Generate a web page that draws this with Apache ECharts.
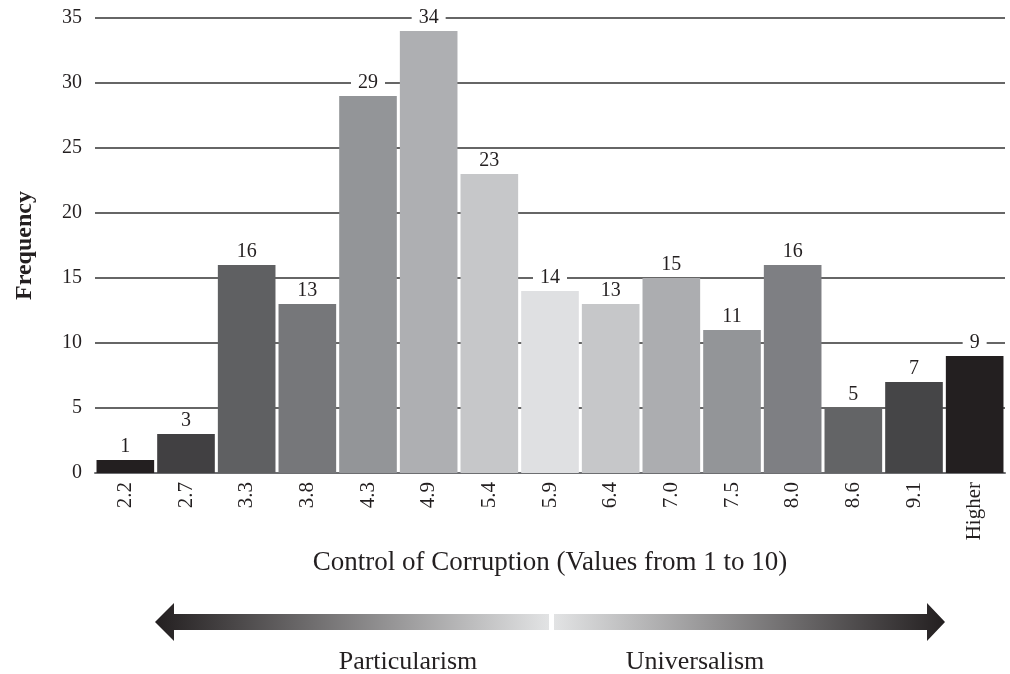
<!DOCTYPE html>
<html>
<head>
<meta charset="utf-8">
<script src="https://cdn.jsdelivr.net/npm/echarts@6/dist/echarts.min.js"></script>
<style>
  html, body { margin: 0; padding: 0; background: #fff; }
  #chart { width: 1010px; height: 674px; }
</style>
</head>
<body>
<div id="chart"></div>
<script>
// histogram bins and counts
const bins = ['2.2', '2.7', '3.3', '3.8', '4.3', '4.9', '5.4', '5.9', '6.4', '7.0', '7.5', '8.0', '8.6', '9.1', 'Higher']
const counts = [1, 3, 16, 13, 29, 34, 23, 14, 13, 15, 11, 16, 5, 7, 9]
const shades = ['#231f20', '#414042', '#5f6062', '#76777a', '#939598', '#aeafb2', '#c6c7c9', '#dfe0e2',
    '#c6c7c9', '#acadb0', '#939598', '#7e7f83', '#636466', '#454547', '#231f20']

const serif = '"Liberation Serif", "DejaVu Serif", serif'

const chart = echarts.init(document.getElementById('chart'))

// the double arrow under the axis title (left half dark -> light, right half light -> dark)
const arrowLeft = [[155, 622], [174, 603], [174, 614], [549, 614], [549, 630], [174, 630], [174, 641]]
const arrowRight = [[945, 622], [927, 603], [927, 614], [554, 614], [554, 630], [927, 630], [927, 641]]

chart.setOption({
    animation: false,
    grid: {
        left: 95,
        right: 5,
        top: 18,
        bottom: 201,
        outerBoundsMode: 'none'
    },
    xAxis: {
        type: 'category',
        data: bins,
        name: 'Control of Corruption (Values from 1 to 10)',
        nameLocation: 'middle',
        nameGap: 76,
        nameTextStyle: {
            fontFamily: serif,
            fontSize: 27,
            color: '#231f20'
        },
        axisLine: {
            lineStyle: { color: '#6d6e71', width: 2 }
        },
        axisTick: { show: false },
        axisLabel: {
            rotate: 90,
            margin: 9,
            fontFamily: serif,
            fontSize: 21,
            color: '#231f20'
        }
    },
    yAxis: {
        type: 'value',
        min: 0,
        max: 35,
        interval: 5,
        name: 'Frequency',
        nameLocation: 'middle',
        nameGap: 58,
        nameTextStyle: {
            fontFamily: serif,
            fontSize: 24,
            fontWeight: 'bold',
            color: '#231f20'
        },
        axisLine: { show: false },
        axisTick: { show: false },
        axisLabel: {
            margin: 13,
            fontFamily: serif,
            fontSize: 20,
            color: '#231f20'
        },
        splitLine: {
            lineStyle: { color: '#333', width: 1.5 }
        }
    },
    series: [
        {
            type: 'bar',
            data: counts.map((v, i) => ({ value: v, itemStyle: { color: shades[i] } })),
            barCategoryGap: '5%',
            z: 3,
            label: {
                show: true,
                position: 'top',
                distance: 3,
                fontFamily: serif,
                fontSize: 20,
                color: '#231f20',
                backgroundColor: '#fff',
                padding: [0, 7]
            }
        }
    ],
    graphic: [
        {
            type: 'polygon',
            shape: { points: arrowLeft },
            style: {
                fill: new echarts.graphic.LinearGradient(0, 0, 1, 0, [
                    { offset: 0, color: '#231f20' },
                    { offset: 1, color: '#e2e3e4' }
                ])
            }
        },
        {
            type: 'polygon',
            shape: { points: arrowRight },
            style: {
                fill: new echarts.graphic.LinearGradient(0, 0, 1, 0, [
                    { offset: 0, color: '#e2e3e4' },
                    { offset: 1, color: '#231f20' }
                ])
            }
        },
        {
            type: 'text',
            x: 408,
            y: 662,
            style: {
                text: 'Particularism',
                font: '26px ' + serif,
                fill: '#231f20',
                align: 'center',
                verticalAlign: 'middle'
            }
        },
        {
            type: 'text',
            x: 695,
            y: 662,
            style: {
                text: 'Universalism',
                font: '26px ' + serif,
                fill: '#231f20',
                align: 'center',
                verticalAlign: 'middle'
            }
        }
    ]
})
</script>
</body>
</html>
